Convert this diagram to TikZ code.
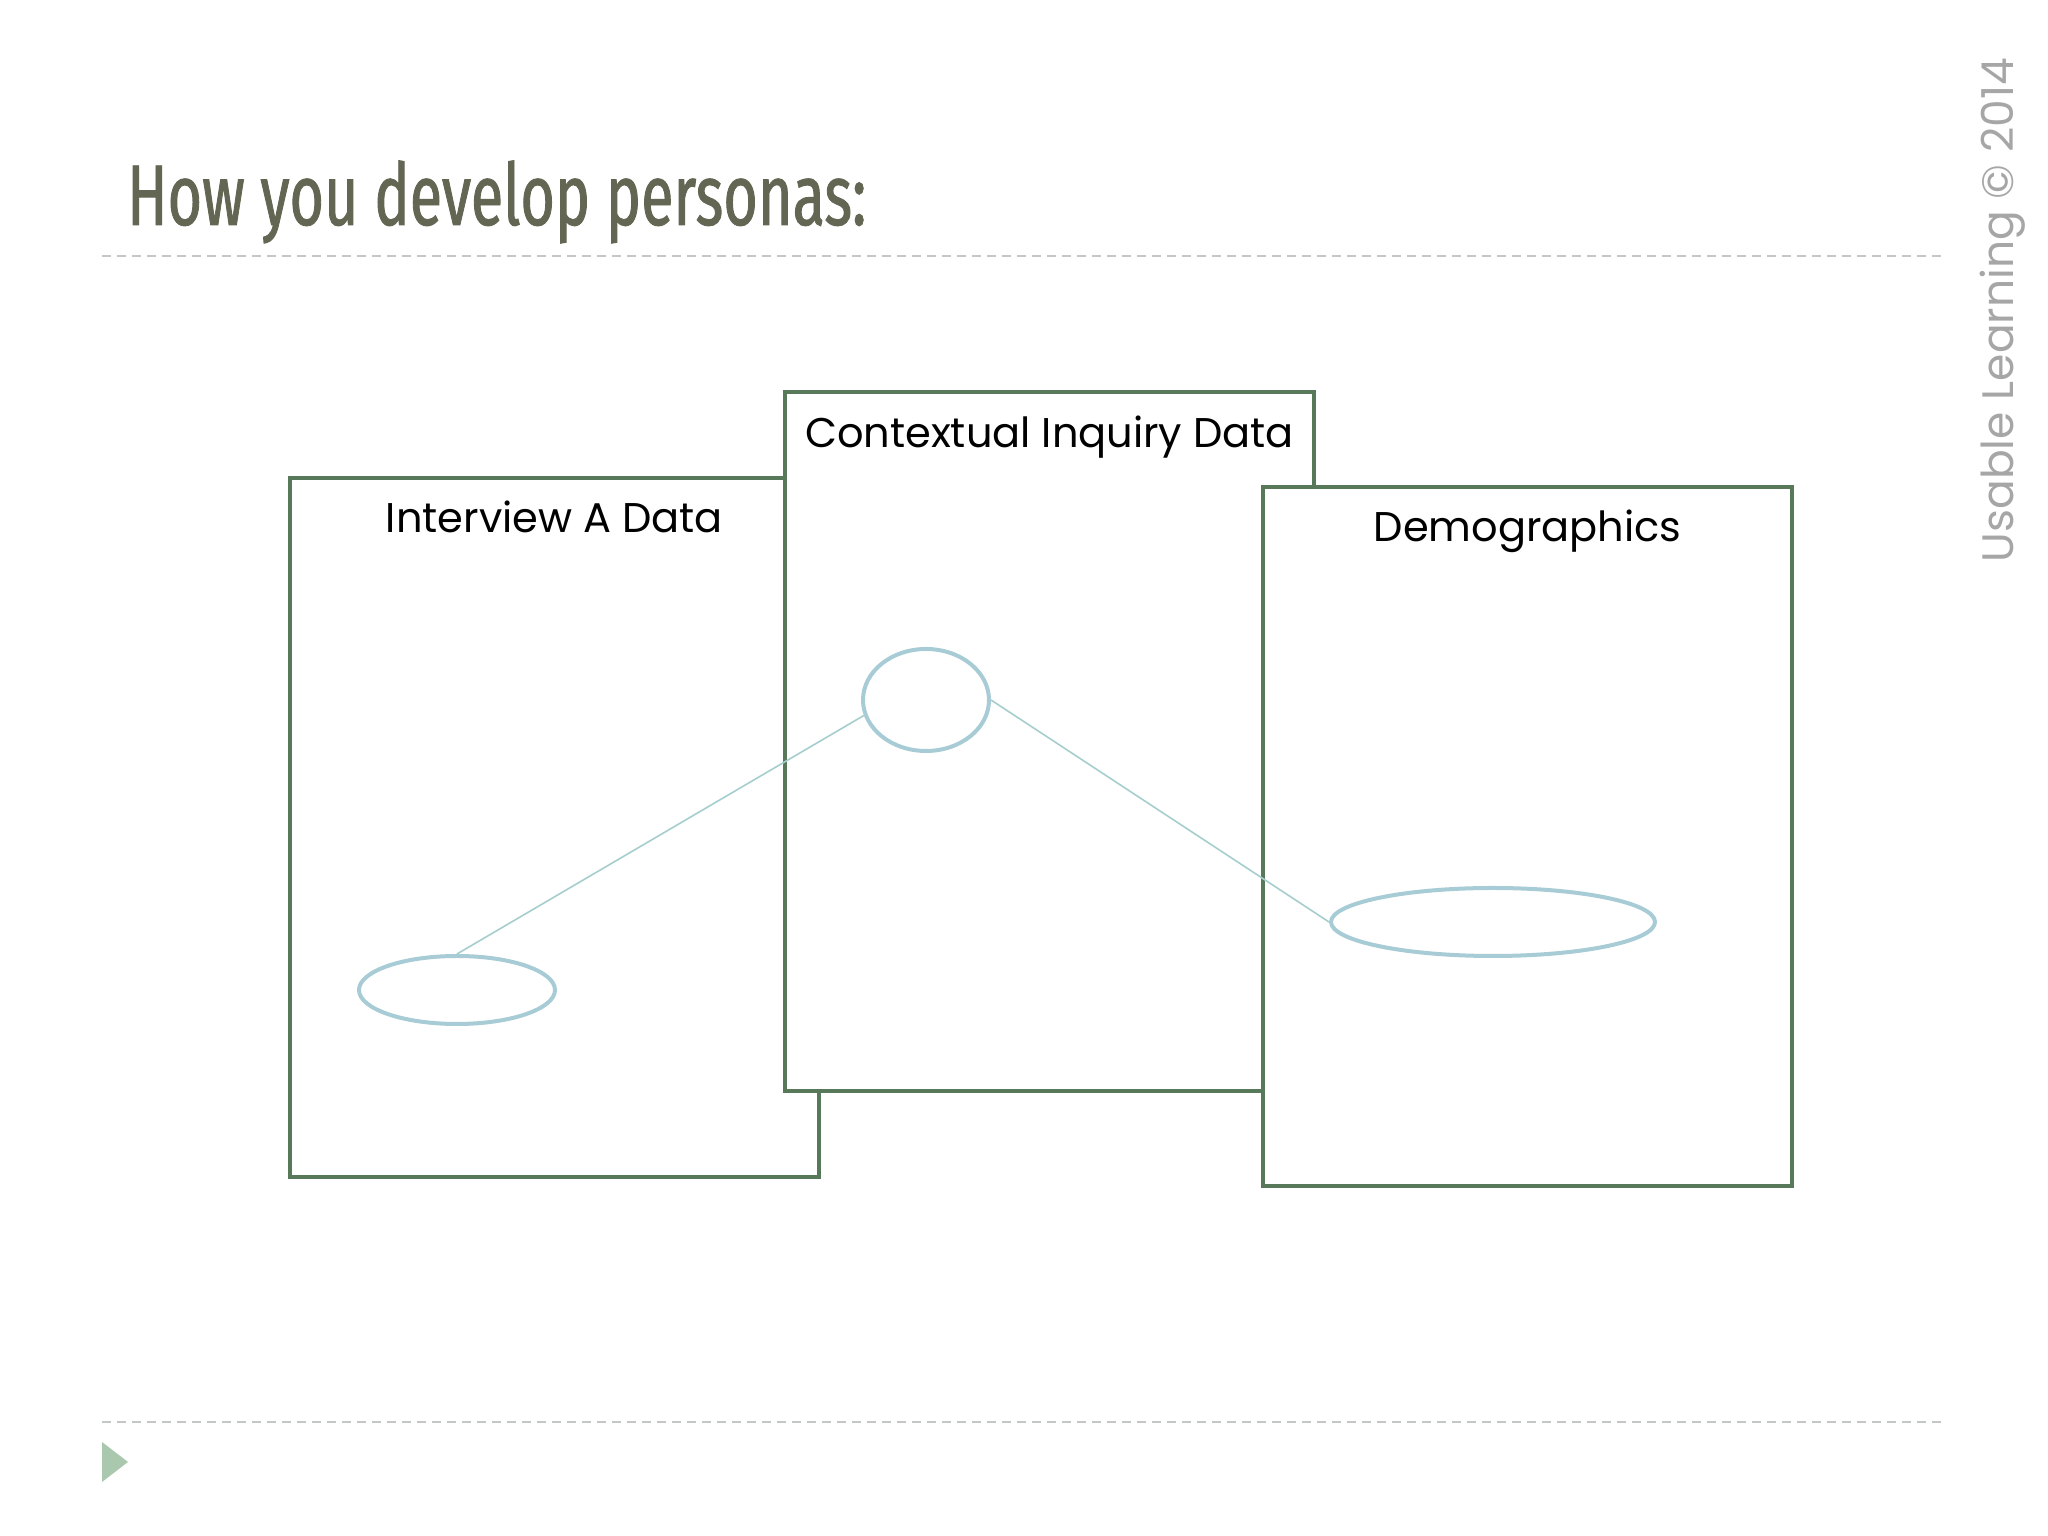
\documentclass[tikz,border=0pt]{standalone}
\usepackage{fontspec}
\setmainfont{Poppins}
\newfontfamily\titlefont[FakeStretch=0.69, FakeBold=1]{Fira Sans}
\usetikzlibrary{positioning, shapes.geometric}
\definecolor{boxgreen}{RGB}{88,120,90}
\definecolor{ovalblue}{RGB}{168,204,214}
\definecolor{linkblue}{RGB}{166,206,206}
\definecolor{titlegray}{RGB}{98,102,82}
\definecolor{rulegray}{RGB}{196,200,196}
\definecolor{markgreen}{RGB}{170,200,174}
\tikzset{
x=1pt, y=1pt, % one unit is one pixel of the slide
databox/.style={draw=boxgreen, line width=4pt, fill=white, minimum width=529pt, minimum height=699pt}, % the three data sheets
boxlabel/.style={anchor=north, inner sep=0pt, font=\fontsize{41.5}{48}\selectfont}, % sheet headings
oval/.style={ellipse, draw=ovalblue, line width=4pt, inner sep=0pt}, % the marked findings
link/.style={draw=linkblue, line width=1.6pt}, % ties between findings
rule/.style={draw=rulegray, line width=2pt, dash pattern=on 9pt off 6pt}, % slide rules
}
\begin{document}
\begin{tikzpicture}
    \useasboundingbox (0,0) rectangle (2048,1536);
    % slide frame
    \node[anchor=base west, inner sep=0pt, text=titlegray, font=\titlefont\fontsize{86}{96}\selectfont] (title) at (127,1311) {How you develop personas:};
    \coordinate (topl) at (102,1280);
    \coordinate (topr) at (1946,1280);
    \coordinate (botl) at (102,114);
    \coordinate (botr) at (1946,114);
    \draw[rule] (topl) -- (topr);
    \draw[rule] (botl) -- (botr);
    \fill[markgreen] (102,94) -- (128,74) -- (102,54) -- cycle;
    \node[rotate=90, inner sep=0pt, text=black!35, font=\fontsize{44}{50}\selectfont] (credit) at (2003,1226) {Usable Learning © 2014};
    % data sheets
    \node[databox] (iv) at (554.5,708.5) {};
    \node[boxlabel, below=25pt of iv.north] (ivlabel) {Interview A Data};
    \node[databox] (ci) at (1049.5,794) {};
    \node[boxlabel, below=25pt of ci.north] (cilabel) {Contextual Inquiry Data};
    \node[databox] (demo) at (1527.5,699.5) {};
    \node[boxlabel, below=25pt of demo.north] (demolabel) {Demographics};
    % findings
    \node[oval, minimum width=196pt, minimum height=68pt] (ivoval) at (457,546) {};
    \node[oval, minimum width=126pt, minimum height=102pt] (cioval) at (926,836) {};
    \node[oval, minimum width=324pt, minimum height=68pt] (demooval) at (1493,614) {};
    \draw[link] (ivoval.north) -- (cioval.194);
    \draw[link] (cioval.east) -- (demooval.west);
\end{tikzpicture}
\end{document}
